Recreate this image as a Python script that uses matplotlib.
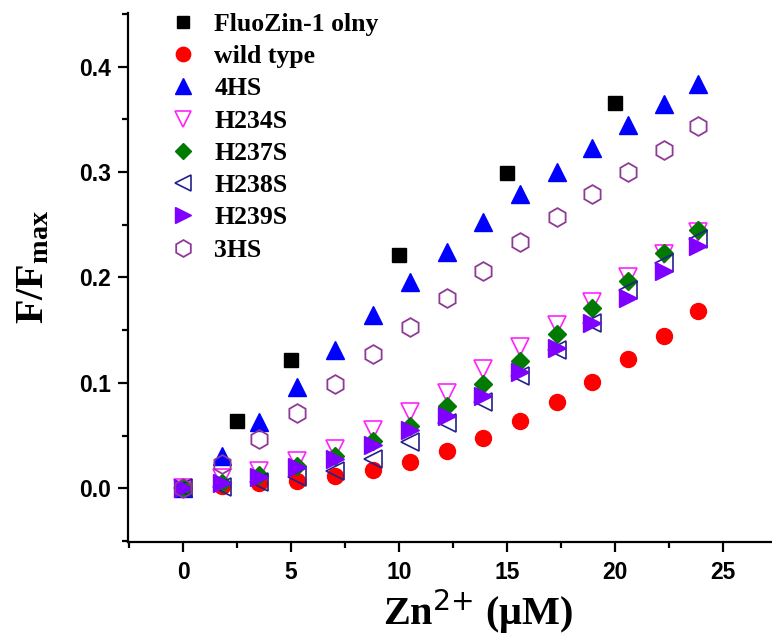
import matplotlib
matplotlib.use("Agg")
import matplotlib.pyplot as plt

# ---- data ----
zn = [0, 1.81, 3.52, 5.28, 7.04, 8.80, 10.50, 12.20, 13.90, 15.60, 17.30, 18.95, 20.60, 22.25, 23.85]
fluozin_x = [2.5, 5, 10, 15, 20]
fluozin_y = [0.0635, 0.122, 0.221, 0.2995, 0.366]
wild_type = [0.0, 0.002, 0.0047, 0.0065, 0.0114, 0.017, 0.0246, 0.0355, 0.048, 0.0635, 0.0815, 0.1005, 0.123, 0.1445, 0.168]
hs4 = [0.0, 0.031, 0.0625, 0.0965, 0.131, 0.164, 0.196, 0.224, 0.253, 0.279, 0.300, 0.323, 0.345, 0.365, 0.384]
h234s = [0.0, 0.010, 0.016, 0.026, 0.037, 0.055, 0.072, 0.090, 0.113, 0.134, 0.155, 0.177, 0.200, 0.222, 0.243]
h237s = [0.0, 0.005, 0.013, 0.021, 0.031, 0.045, 0.059, 0.078, 0.0986, 0.121, 0.146, 0.1706, 0.197, 0.223, 0.2455]
h238s = [0.0, 0.001, 0.006, 0.011, 0.016, 0.028, 0.044, 0.0616, 0.0815, 0.107, 0.131, 0.157, 0.188, 0.214, 0.237]
h239s = [0.0, 0.005, 0.011, 0.020, 0.028, 0.041, 0.055, 0.069, 0.088, 0.110, 0.1327, 0.157, 0.181, 0.2066, 0.230]
hs3 = [0.0, 0.023, 0.0466, 0.071, 0.0986, 0.127, 0.1535, 0.181, 0.2066, 0.234, 0.257, 0.2796, 0.3005, 0.321, 0.344]
x_ticks = [0, 5, 10, 15, 20, 25]
y_ticks = [0.0, 0.1, 0.2, 0.3, 0.4]
y_tick_labels = ["0.0", "0.1", "0.2", "0.3", "0.4"]

plt.rcParams['mathtext.default'] = 'regular'

fig = plt.figure(figsize=(7.72, 6.41), dpi=100)
ax = fig.add_axes([128/772, 99/641, 1 - 128/772, (542-13)/641])

ax.plot(fluozin_x, fluozin_y, ls='none', marker='s', ms=10, color='black', label='FluoZin-1 olny')
ax.plot(zn, wild_type, ls='none', marker='o', ms=11.5, color='#ff0000', mec='#ff0000', label='wild type')
ax.plot(zn, hs4, ls='none', marker='^', ms=13, color='#0000ff', mec='#0000ff', label='4HS')
ax.plot(zn, h234s, ls='none', marker='v', ms=13, mfc='none', mec='#ff22ff', mew=1.2, label='H234S')
ax.plot(zn, h237s, ls='none', marker='D', ms=9, color='#007a00', mec='#007a00', label='H237S')
ax.plot(zn, h238s, ls='none', marker='<', ms=13, mfc='none', mec='#22228a', mew=1.2, label='H238S')
ax.plot(zn, h239s, ls='none', marker='>', ms=13, color='#8000ff', mec='#8000ff', label='H239S')
ax.plot(zn, hs3, ls='none', marker='h', ms=13.5, mfc='none', mec='#8e3a96', mew=1.3, label='3HS')

ax.set_xlim(-2.55, 27.27)
ax.set_ylim(-0.051, 0.451)

for s in ['top', 'right']:
    ax.spines[s].set_visible(False)
for s in ['left', 'bottom']:
    ax.spines[s].set_linewidth(1.6)

ax.set_xticks(x_ticks)
ax.set_xticks([2.5, 7.5, 12.5, 17.5, 22.5, -2.5], minor=True)
ax.set_yticks(y_ticks)
ax.set_yticklabels(y_tick_labels)
ax.set_yticks([-0.05, 0.05, 0.15, 0.25, 0.35, 0.45], minor=True)
ax.tick_params(which='both', direction='out', width=1.6)
ax.tick_params(which='major', length=7.5)
ax.tick_params(which='minor', length=4)
ax.tick_params(axis='x', which='major', pad=6)
ax.tick_params(axis='y', which='major', pad=5)
for lab in ax.get_xticklabels() + ax.get_yticklabels():
    lab.set_fontfamily('Liberation Sans')
    lab.set_fontweight('bold')
    lab.set_fontsize(16.5)

ax.set_xlabel(r'Zn$^{\text{2+}}$ (μM)', fontfamily='Liberation Serif', fontweight='bold', fontsize=29)
ax.xaxis.set_label_coords(0.543, -0.085)
ax.set_ylabel('F/F$_{max}$', fontfamily='Liberation Serif', fontweight='bold', fontsize=29)
ax.yaxis.set_label_coords(-0.118, 0.52)

leg = ax.legend(loc='upper left', bbox_to_anchor=(0.03, 1.044), frameon=False,
                prop={'family': 'Liberation Serif', 'weight': 'bold', 'size': 18.5},
                handlelength=1.0, handletextpad=0.7, labelspacing=0.36, markerscale=0.9)

fig.savefig('out.png', dpi=100)
